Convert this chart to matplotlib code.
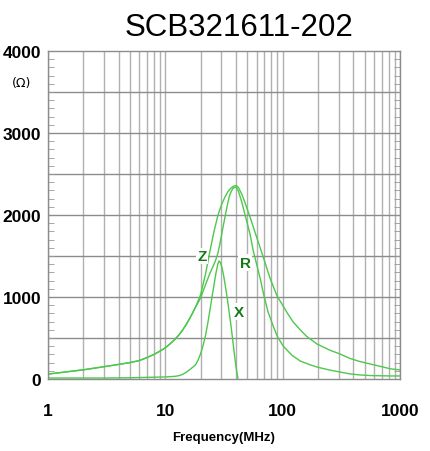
import numpy as np
import matplotlib.pyplot as plt
from matplotlib.ticker import FixedLocator, MultipleLocator, NullFormatter

plt.rcParams['font.family'] = ['Liberation Sans', 'DejaVu Sans']

# 数据
freq_z = [1, 2, 3, 4, 5, 6, 7, 8, 9, 10, 11, 12, 13, 14, 15, 16, 17, 18, 19, 20,
          22, 24, 26, 28, 30, 32, 34, 36, 38, 40, 42, 45, 48, 52.7, 56, 60, 65, 70,
          78, 89.6, 100, 110, 123, 141, 160, 196, 254, 308, 376, 450, 556, 700, 823, 1000]
z_val = [60, 112, 150, 178, 200, 225, 262, 300, 340, 380, 430, 480, 535, 595, 660,
         730, 800, 870, 950, 1030, 1280, 1560, 1800, 1990, 2120, 2210, 2280, 2325,
         2350, 2360, 2335, 2250, 2140, 1975, 1860, 1730, 1580, 1440, 1230, 1012, 900,
         800, 695, 600, 520, 427, 350, 305, 250, 215, 183, 150, 125, 110]

freq_r = [1, 2, 3, 4, 5, 6, 7, 8, 9, 10, 11, 12, 13, 14, 15, 16, 17, 18, 19, 20,
          22, 24, 26, 27, 28, 29, 30, 31, 32, 33, 34, 35, 36, 37, 38, 40, 42, 45, 48,
          52.7, 56, 60.5, 65, 68.1, 75, 83, 90, 101, 120, 141, 170, 196, 250, 308,
          376, 450, 556, 823, 1000]
r_val = [60, 112, 150, 178, 200, 225, 262, 300, 340, 380, 430, 480, 535, 595, 660,
         730, 800, 870, 930, 990, 1150, 1290, 1400, 1460, 1530, 1630, 1740, 1850, 1950,
         2050, 2140, 2220, 2270, 2305, 2330, 2340, 2290, 2150, 1990, 1768, 1570, 1378,
         1200, 1061, 820, 646, 520, 402, 290, 220, 175, 146, 110, 85, 62, 50, 42, 37, 37]

freq_x = [1, 3, 5, 7, 10, 12, 13, 14, 15, 16, 17, 18, 19, 20, 21, 22, 23, 24, 25,
          26, 27, 28, 28.7, 29.5, 30.4, 31.5, 32.5, 33.5, 34.5, 35.5, 36.5, 37.5,
          38.5, 39.5, 40.5, 41.7]
x_val = [12, 12, 15, 20, 25, 32, 40, 55, 80, 110, 140, 170, 230, 310, 410, 530,
         680, 840, 1000, 1150, 1290, 1400, 1440, 1420, 1360, 1250, 1130, 1010, 880,
         750, 620, 480, 340, 210, 100, 0]

xtick_pos = [1, 10, 100, 1000]
xtick_lab = ['1', '10', '100', '1000']
ytick_pos = [0, 1000, 2000, 3000, 4000]
ytick_lab = ['0', '1000', '2000', '3000', '4000']

line_color = '#4cc84c'
label_color = '#157a15'

fig = plt.figure(figsize=(4.31, 4.52), dpi=100)
ax = fig.add_axes([48 / 431, 1 - 380 / 452, 352 / 431, 328 / 452])

ax.plot(freq_z, z_val, color=line_color, lw=1.0)
ax.plot(freq_r, r_val, color=line_color, lw=1.0)
ax.plot(freq_x, x_val, color=line_color, lw=1.0)

ax.set_xscale('log')
ax.set_xlim(1, 1000)
ax.set_ylim(0, 4000)

# 网格
minor_x = [m * 10 ** d for d in range(3) for m in range(2, 10)]
ax.xaxis.set_major_locator(FixedLocator(xtick_pos))
ax.xaxis.set_minor_locator(FixedLocator(minor_x))
ax.xaxis.set_minor_formatter(NullFormatter())
ax.set_xticklabels(xtick_lab)
for v in minor_x + xtick_pos:
    ax.axvline(v, color='#b0b0b0', lw=1.0, zorder=0)
for v in range(500, 4000, 500):
    ax.axhline(v, color='#8c8c8c', lw=1.0, zorder=0)

ax.set_yticks(ytick_pos)
ax.set_yticklabels(ytick_lab)
ax.yaxis.set_minor_locator(MultipleLocator(100))
ax.tick_params(axis='y', which='minor', direction='in', length=4, color='#999999',
               left=True, right=True)
ax.tick_params(axis='y', which='major', length=0, pad=5)
ax.tick_params(axis='x', which='both', length=0, pad=17)
for lab in ax.get_xticklabels() + ax.get_yticklabels():
    lab.set_fontsize(12.5)
    lab.set_fontweight('bold')

for s in ax.spines.values():
    s.set_color('#8c8c8c')
    s.set_linewidth(1.0)

ax.set_xlabel('Frequency(MHz)', fontsize=9.5, fontweight='bold', labelpad=10)

# 曲线标注
box = dict(facecolor='white', edgecolor='none', pad=1)
ax.text(20.5, 1500, 'Z', color=label_color, fontsize=11, fontweight='bold',
        ha='center', va='center', bbox=box)
ax.text(48, 1420, 'R', color=label_color, fontsize=11, fontweight='bold',
        ha='center', va='center', bbox=box)
ax.text(42, 820, 'X', color=label_color, fontsize=11, fontweight='bold',
        ha='center', va='center', bbox=box)

fig.text(22 / 431, 1 - 84 / 452, '(Ω)', fontsize=9, ha='center', va='center',
         family=['DejaVu Sans'])
fig.text(239 / 431, 1 - 28 / 452, 'SCB321611-202', fontsize=22.5, ha='center',
         va='center')

fig.savefig('out.png', dpi=100, facecolor='white')
